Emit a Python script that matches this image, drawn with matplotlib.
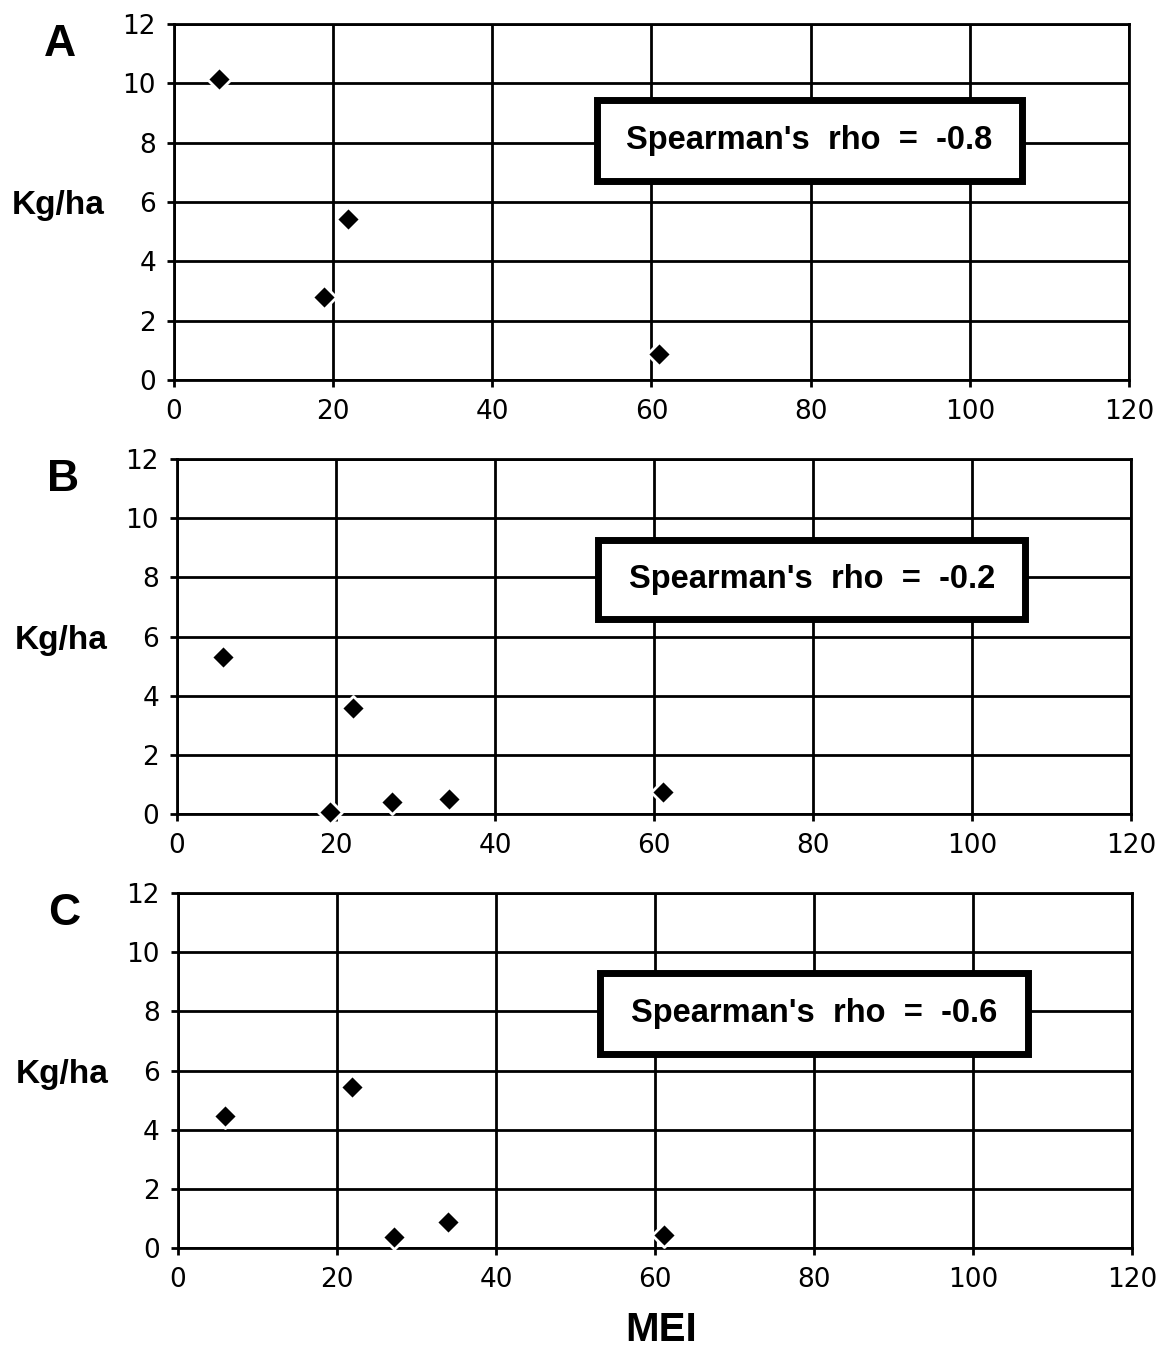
import matplotlib
matplotlib.use("Agg")
import matplotlib.pyplot as plt
from matplotlib.patches import Rectangle

plt.rcParams['font.family'] = ['Liberation Sans', 'DejaVu Sans']

# Data
panel_labels = ["A", "B", "C"]
rho_texts = ["Spearman's  rho  =  -0.8", "Spearman's  rho  =  -0.2", "Spearman's  rho  =  -0.6"]
a_mei = [5.7, 18.8, 21.8, 61.0]
a_kg = [10.15, 2.8, 5.43, 0.88]
b_mei = [5.8, 19.3, 22.1, 27.0, 34.2, 61.1]
b_kg = [5.3, 0.07, 3.6, 0.4, 0.5, 0.74]
c_mei = [5.9, 21.9, 27.2, 34.0, 61.1]
c_kg = [4.46, 5.44, 0.37, 0.88, 0.44]
x_ticks = [0, 20, 40, 60, 80, 100, 120]
y_ticks = [0, 2, 4, 6, 8, 10, 12]
x_label = "MEI"
y_label = "Kg/ha"

series = [(a_mei, a_kg), (b_mei, b_kg), (c_mei, c_kg)]

fig = plt.figure(figsize=(11.61, 13.47), dpi=100)
positions = [
    [0.1499, 0.7179, 0.8225, 0.2643],
    [0.1525, 0.3957, 0.8217, 0.2635],
    [0.1533, 0.0735, 0.8217, 0.2635],
]
# annotation box extents in data coords (x0, x1, y0, y1)
boxes = [
    (53.1, 106.5, 6.71, 9.44),
    (53.0, 106.7, 6.59, 9.26),
    (53.1, 106.9, 6.56, 9.30),
]

for i, (pos, (xs, ys)) in enumerate(zip(positions, series)):
    ax = fig.add_axes(pos)
    ax.set_xlim(0, 120)
    ax.set_ylim(0, 12)
    ax.set_xticks(x_ticks)
    ax.set_yticks(y_ticks)
    ax.set_xticklabels([str(t) for t in x_ticks], family='DejaVu Sans')
    ax.set_yticklabels([str(t) for t in y_ticks], family='DejaVu Sans')
    ax.grid(True, color='black', linewidth=2.0)
    ax.set_axisbelow(True)
    for sp in ax.spines.values():
        sp.set_linewidth(2.0)
        sp.set_color('black')
    ax.tick_params(axis='both', direction='out', length=5, width=2.0,
                   labelsize=19, pad=8, colors='black')
    ax.tick_params(axis='x', pad=9)
    ax.scatter(xs, ys, marker='D', s=150, color='black', edgecolors='white',
               linewidths=2.0, zorder=5, clip_on=False)
    x0, x1, y0, y1 = boxes[i]
    ax.add_patch(Rectangle((x0, y0), x1 - x0, y1 - y0, facecolor='white',
                           edgecolor='black', linewidth=5, zorder=6))
    ax.text((x0 + x1) / 2, (y0 + y1) / 2, rho_texts[i], ha='center', va='center',
            fontsize=23.5, fontweight='bold', zorder=7)
    ax.text(-0.121, 0.49, y_label, transform=ax.transAxes, ha='center',
            va='center', fontsize=24, fontweight='bold')
    ax.text(-0.119, 1.0, panel_labels[i], transform=ax.transAxes, ha='center',
            va='top', fontsize=32, fontweight='bold')

fig.text(661 / 1161, 1 - 1330 / 1347, x_label, ha='center', va='center',
         fontsize=29, fontweight='bold')

fig.savefig("out.png", dpi=100, facecolor='white')
